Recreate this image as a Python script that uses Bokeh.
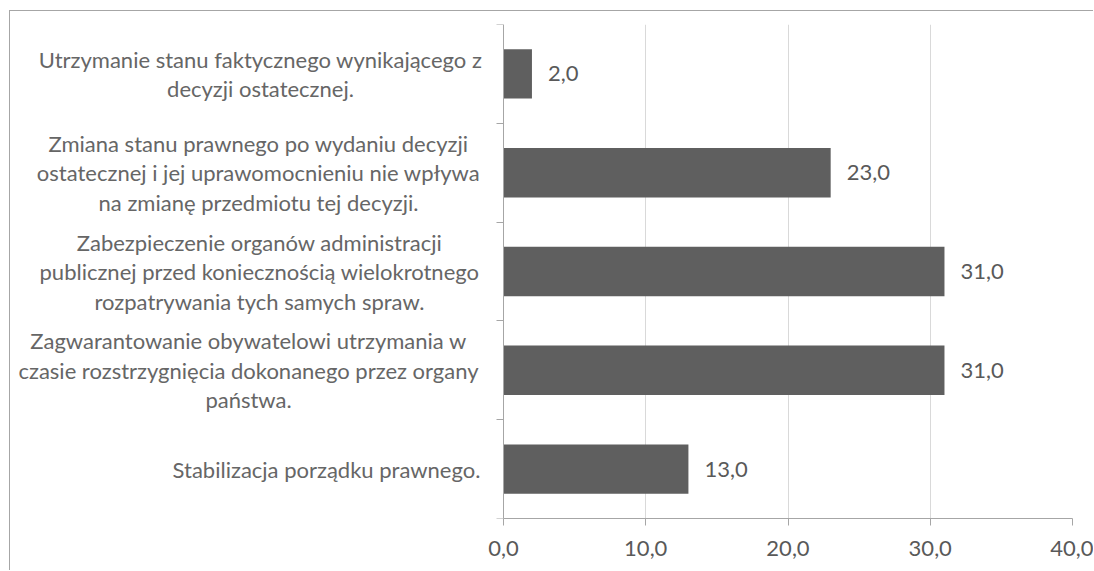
from bokeh.plotting import figure
from bokeh.models import ColumnDataSource, Range1d, FixedTicker, LabelSet, CustomJSTickFormatter
from bokeh.core.properties import value
from bokeh.embed import file_html
from bokeh.resources import INLINE

# ---- data ----
categories = [
    "Utrzymanie stanu faktycznego wynikającego z\ndecyzji ostatecznej.",
    "Zmiana stanu prawnego po wydaniu decyzji\nostatecznej i jej uprawomocnieniu nie wpływa\nna zmianę przedmiotu tej decyzji.",
    "Zabezpieczenie organów administracji\npublicznej przed koniecznością wielokrotnego\nrozpatrywania tych samych spraw.",
    "Zagwarantowanie obywatelowi utrzymania w\nczasie rozstrzygnięcia dokonanego przez organy\npaństwa.",
    "Stabilizacja porządku prawnego.",
]
values = [2.0, 23.0, 31.0, 31.0, 13.0]
x_ticks = [0, 10, 20, 30, 40]
x_tick_labels = ["0,0", "10,0", "20,0", "30,0", "40,0"]

# ---- style / layout ----
FONT = "Lato"
TEXT_COLOR = "#595959"
LABEL_COLOR = "#666666"
BAR_COLOR = "#5f5f5f"
AXIS_COLOR = "#a6a6a6"
GRID_COLOR = "#d9d9d9"
FS = "22px"
LINE_H = 29.5
# horizontal centres of the category label blocks, px left of the value axis origin
LABEL_DX = [-243, -245, -244, -255, -177]
PX_PER_UNIT = (1072 - 503) / 40.0      # frame scale
FRAME_LEFT_GAP = 493                   # px between frame left edge and x = 0
X_START = -FRAME_LEFT_GAP / PX_PER_UNIT

n = len(categories)
pos = list(range(n))

p = figure(width=1084, height=560, output_backend="svg", toolbar_location=None,
           x_range=Range1d(X_START, 40), y_range=Range1d(n - 0.5, -0.5),
           min_border_left=0, min_border_right=22, min_border_top=13,
           min_border_bottom=53)
p.styles = {"border-left": "1px solid #a6a6a6", "border-top": "1px solid #a6a6a6",
            "margin-left": "9px", "margin-top": "10px"}
p.outline_line_color = None
p.background_fill_color = "white"
p.border_fill_color = "white"

bars = ColumnDataSource(dict(y=pos, v=values,
                             lab=[f"{v:.1f}".replace(".", ",") for v in values]))
p.hbar(y="y", left=0, right="v", height=0.5, source=bars,
       fill_color=BAR_COLOR, line_color=None)

# x axis (only spans 0..40)
p.xaxis.ticker = FixedTicker(ticks=x_ticks)
p.xaxis.bounds = (x_ticks[0], x_ticks[-1])
p.xaxis.major_label_overrides = {t: l for t, l in zip(x_ticks, x_tick_labels)}
p.xaxis.axis_line_color = AXIS_COLOR
p.xaxis.major_tick_line_color = AXIS_COLOR
p.xaxis.major_tick_out = 7
p.xaxis.major_tick_in = 0
p.xaxis.minor_tick_line_color = None
p.xaxis.major_label_text_font = FONT
p.xaxis.major_label_text_font_size = FS
p.xaxis.major_label_text_color = TEXT_COLOR
p.xaxis.major_label_standoff = 15
p.xgrid.ticker = FixedTicker(ticks=x_ticks)
p.xgrid.grid_line_color = GRID_COLOR

# y axis at x = 0: ticks at category boundaries, no labels
p.yaxis.fixed_location = 0
p.yaxis.ticker = FixedTicker(ticks=[i - 0.5 for i in range(n + 1)])
p.yaxis.formatter = CustomJSTickFormatter(code="return ''")
p.yaxis.major_label_standoff = 0
p.yaxis.axis_line_color = AXIS_COLOR
p.yaxis.major_tick_line_color = AXIS_COLOR
p.yaxis.major_tick_out = 7
p.yaxis.major_tick_in = 0
p.yaxis.minor_tick_line_color = None
p.ygrid.grid_line_color = None

# value labels
p.add_layout(LabelSet(x="v", y="y", text="lab", source=bars, x_offset=16,
                      text_align="left", text_baseline="middle",
                      text_font=value(FONT), text_font_size=FS, text_color=TEXT_COLOR))

# category labels (one label per line, lines centred within each block)
lx, ly, lxo, lyo, lt = [], [], [], [], []
for i, cat in enumerate(categories):
    lines = cat.split("\n")
    k = len(lines)
    for j, line in enumerate(lines):
        lx.append(0)
        ly.append(i)
        lxo.append(LABEL_DX[i])
        lyo.append(((k - 1) / 2 - j) * LINE_H)
        lt.append(line)
cat_src = ColumnDataSource(dict(x=lx, y=ly, xo=lxo, yo=lyo, t=lt))
p.add_layout(LabelSet(x="x", y="y", text="t", x_offset="xo", y_offset="yo",
                      source=cat_src,
                      text_align="center", text_baseline="middle",
                      text_font=value(FONT), text_font_size=FS, text_color=LABEL_COLOR))

open("out.html", "w").write(file_html(p, INLINE))
